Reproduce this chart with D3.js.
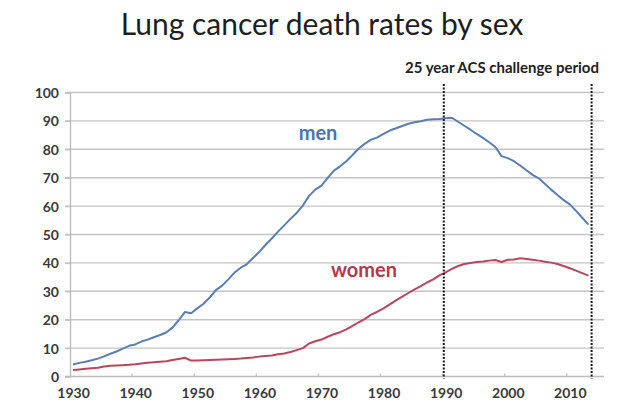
<!DOCTYPE html>
<html><head><meta charset="utf-8">
<script src="https://cdn.jsdelivr.net/npm/d3@7"></script>
<style>
html,body{margin:0;padding:0;background:#fff;}
svg{display:block;font-family:Lato,"Open Sans",sans-serif;}
</style></head>
<body>
<script>
const startYear = 1930;
const men = [4.2,4.8,5.2,5.7,6.3,7.1,8.0,8.8,9.8,10.8,
11.3,12.3,13.0,13.8,14.6,15.5,17.2,19.8,22.7,22.3,
24.0,25.6,27.8,30.4,32.0,34.2,36.6,38.3,39.6,41.8,
43.9,46.4,48.6,51.0,53.2,55.5,57.6,60.2,63.6,65.8,
67.2,69.9,72.5,74.0,75.8,78.0,80.3,82.0,83.4,84.2,
85.4,86.6,87.4,88.2,89.0,89.5,89.9,90.4,90.6,90.7,
90.9,91.1,89.7,88.3,86.9,85.4,84.0,82.5,80.8,77.6,
76.9,75.8,74.3,72.6,71.0,69.8,67.8,65.8,63.9,62.1,
60.6,58.3,55.9,53.5];
const women = [2.3,2.5,2.7,2.9,3.1,3.5,3.8,3.9,4.0,4.1,
4.3,4.6,4.8,5.0,5.2,5.4,5.8,6.2,6.6,5.6,
5.6,5.7,5.8,5.9,6.0,6.1,6.2,6.3,6.5,6.7,
7.0,7.2,7.4,7.8,8.1,8.6,9.3,10.0,11.6,12.4,
13.0,14.0,14.9,15.6,16.6,17.8,19.1,20.3,21.8,22.8,
24.0,25.4,26.8,28.1,29.4,30.7,31.8,33.1,34.2,35.6,
36.7,37.9,38.9,39.6,40.0,40.3,40.5,40.8,41.0,40.3,
41.1,41.2,41.6,41.4,41.1,40.8,40.4,40.1,39.6,38.9,
38.1,37.3,36.4,35.5];
const xTickYears = [1930,1940,1950,1960,1970,1980,1990,2000,2010];
const yTicks = [0,10,20,30,40,50,60,70,80,90,100];
const challengeYears = [1989.7, 2013.5];
const seriesNames = ["men","women"];
const titleText = "Lung cancer death rates by sex";
const periodText = "25 year ACS challenge period";

const W = 640, H = 407;
const svg = d3.select("body").append("svg").attr("width",W).attr("height",H);

const x = d3.scaleLinear().domain([1929.5, 2015.5]).range([70, 604]);
const y = d3.scaleLinear().domain([0, 100]).range([376.5, 92.5]);

// title
svg.append("text").attr("x",322).attr("y",35).attr("text-anchor","middle")
  .attr("font-size",30).attr("fill","#1e1e1e").text(titleText);

// gridlines
svg.append("g").selectAll("line").data(yTicks.filter(d=>d>0)).join("line")
  .attr("x1",65).attr("x2",604).attr("y1",d=>y(d)).attr("y2",d=>y(d))
  .attr("stroke","#c4c4c4").attr("stroke-width",1.4);

// y axis
const yAxis = d3.axisLeft(y).tickValues(yTicks).tickSize(5).tickPadding(6);
const gy = svg.append("g").attr("transform","translate(70,0)").call(yAxis);
gy.select(".domain").attr("stroke","#bdbdbd").attr("stroke-width",1.4);
gy.selectAll(".tick line").attr("stroke","#c4c4c4").attr("stroke-width",1.4);
gy.selectAll(".tick text").attr("font-size",14).attr("fill","#3a3a3a").attr("font-family","Lato")
  .attr("font-weight","bold").attr("dy","0.35em");

// x axis
const xAxis = d3.axisBottom(x).tickValues(xTickYears).tickSize(0).tickPadding(11).tickFormat(d3.format("d"));
const gx = svg.append("g").attr("transform",`translate(0,${y(0)})`).call(xAxis);
gx.select(".domain").attr("stroke","#bdbdbd").attr("stroke-width",1.4).attr("d",`M65,0H604`);
gx.selectAll(".tick text").attr("font-size",14).attr("fill","#3a3a3a").attr("font-family","Lato")
  .attr("font-weight","bold").attr("dy","0.75em");
svg.append("g").selectAll("line").data(xTickYears.slice(1)).join("line")
  .attr("x1",d=>x(d-0.5)).attr("x2",d=>x(d-0.5)).attr("y1",y(0)-3).attr("y2",y(0))
  .attr("stroke","#c4c4c4").attr("stroke-width",1.4);

// lines
const line = d3.line().x((d,i)=>x(startYear+i)).y(d=>y(d));
svg.append("path").datum(men).attr("d",line).attr("fill","none")
  .attr("stroke","#5a7db3").attr("stroke-width",2).attr("stroke-linejoin","round");
svg.append("path").datum(women).attr("d",line).attr("fill","none")
  .attr("stroke","#b9465e").attr("stroke-width",2).attr("stroke-linejoin","round");

// dashed period lines
svg.append("g").selectAll("line").data(challengeYears).join("line")
  .attr("x1",d=>x(d)).attr("x2",d=>x(d)).attr("y1",84).attr("y2",y(0)+2)
  .attr("stroke","#1a1a1a").attr("stroke-width",2).attr("stroke-dasharray","2,1.5");

svg.append("text").attr("x",502).attr("y",73).attr("text-anchor","middle")
  .attr("font-size",15).attr("font-weight","bold").attr("fill","#222").text(periodText);

// series labels
svg.append("text").attr("x",318).attr("y",140).attr("text-anchor","middle")
  .attr("font-size",20).attr("font-weight","bold").attr("fill","#4d74ad").text(seriesNames[0]);
svg.append("text").attr("x",364).attr("y",277).attr("text-anchor","middle")
  .attr("font-size",20).attr("font-weight","bold").attr("fill","#b5384f").text(seriesNames[1]);
</script>
</body></html>
